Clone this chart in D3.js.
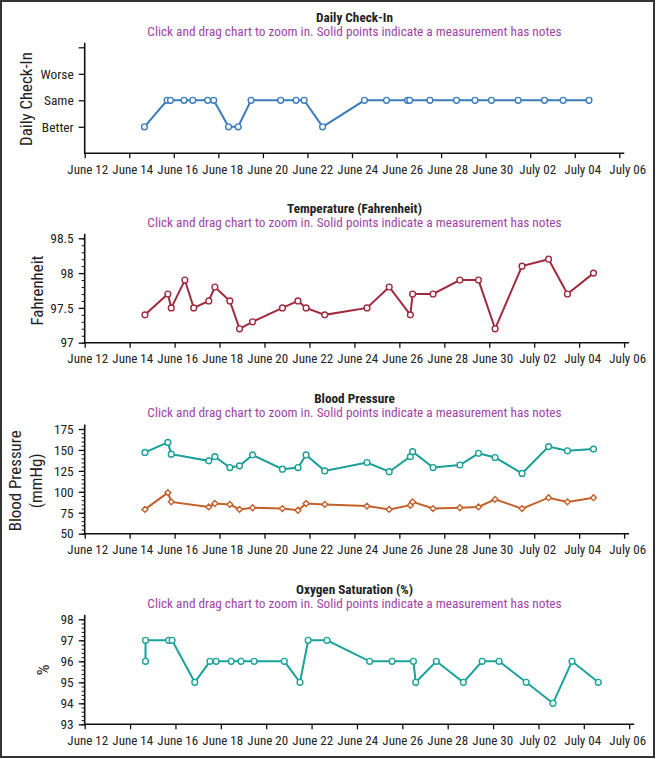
<!DOCTYPE html>
<html><head><meta charset="utf-8">
<script src="https://cdn.jsdelivr.net/npm/d3@7"></script>
<style>
body{margin:0;background:#fff;}
svg{display:block;}
text{font-family:"Roboto Condensed","Liberation Sans Narrow","Arial Narrow",Roboto,"Liberation Sans",Arial,sans-serif;fill:#222;}
</style></head>
<body>
<svg id="c" width="656" height="759"></svg>
<script>
// ---------------- data ----------------
const dates = ["2020-06-14T16:20","2020-06-15T16:50","2020-06-15T20:25","2020-06-16T11:00","2020-06-16T20:25",
  "2020-06-17T12:30","2020-06-17T19:00","2020-06-18T11:00","2020-06-18T21:20","2020-06-19T11:15",
  "2020-06-20T19:10","2020-06-21T11:45","2020-06-21T20:25","2020-06-22T16:20","2020-06-24T13:25",
  "2020-06-25T13:10","2020-06-26T11:45","2020-06-26T14:10","2020-06-27T12:00","2020-06-28T16:35",
  "2020-06-29T12:30","2020-06-30T06:15","2020-07-01T11:00","2020-07-02T15:20","2020-07-03T11:30","2020-07-04T15:20"];
const checkInLevels = ["", "Better", "Same", "Worse", ""];
const checkIn = [1,2,2,2,2,2,2,1,1,2,2,2,2,1,2,2,2,2,2,2,2,2,2,2,2,2];
const temperature = [97.4,97.7,97.5,97.9,97.5,97.6,97.8,97.6,97.2,97.3,97.5,97.6,97.5,97.4,97.5,97.8,97.4,97.7,97.7,97.9,97.9,97.2,98.1,98.2,97.7,98.0];
const bpDates = dates.filter((d,i)=> i!==3 && i!==4);
const systolic = [147,159,145,137,142,129,131,144,127,129,144,125,135,124,142,148,129,132,146,141,122,154,149,151];
const diastolic = [79,99,88,82,86,85,79,81,80,78,86,85,83,79,84,88,80,81,82,91,80,93,88,93];
const o2Dates = [dates[0]].concat(dates.filter((d,i)=> i!==3));
const oxygen = [96,97,97,97,95,96,96,96,96,96,96,95,97,97,96,96,96,95,96,95,96,96,95,94,96,95];
const xTickDates = ["2020-06-12","2020-06-14","2020-06-16","2020-06-18","2020-06-20","2020-06-22","2020-06-24",
  "2020-06-26","2020-06-28","2020-06-30","2020-07-02","2020-07-04","2020-07-06"];
const tempTicks = [97, 97.5, 98, 98.5];
const bpTicks = [50, 75, 100, 125, 150, 175];
const o2Ticks = [93, 94, 95, 96, 97, 98];
const subtitle = "Click and drag chart to zoom in. Solid points indicate a measurement has notes";

// ---------------- helpers ----------------
const parse = d3.isoParse;
const svg = d3.select("#c");
const X0 = 84.7;
const xStart = new Date(2020,5,12), x06 = new Date(2020,6,6);
// shared placement of the date labels (same in every panel)
const xLabel = d3.scaleTime().domain([xStart, x06]).range([87.2, 627.2]);

function fitSize(sample, weight, target){
  const t = svg.append("text").style("font-size","20px").style("font-weight",weight).text(sample);
  const w = t.node().getComputedTextLength();
  t.remove();
  return 20*target/w;
}
const FS_SUB = fitSize(subtitle, "normal", 414.6);
const FS_TITLE = fitSize("Daily Check-In", "bold", 77);
const FS_XT = fitSize("June 12", "normal", 40.7);
const FS_YT = fitSize("Worse", "normal", 33.2);
const FS_LAB = fitSize("Blood Pressure", "normal", 101);

svg.append("rect").attr("x",1).attr("y",1).attr("width",653).attr("height",756)
  .attr("fill","none").attr("stroke","#333").attr("stroke-width",2);

function panel(cfg){
  const g = svg.append("g");
  const pxPerDay = (cfg.x06 - X0)/24;
  const endDate = new Date(+x06 + (cfg.xEnd - cfg.x06)/pxPerDay*864e5);
  const x = d3.scaleTime().domain([xStart, endDate]).range([X0, cfg.xEnd]);
  const y = d3.scaleLinear().domain(cfg.yDomain).range([cfg.yBottom, cfg.yTop]);
  const baseY = cfg.yBottom;

  // title
  g.append("text").attr("x",354.5).attr("y",cfg.titleY).attr("text-anchor","middle")
    .style("font-weight","bold").style("font-size",FS_TITLE+"px").text(cfg.title);
  g.append("text").attr("x",354.5).attr("y",cfg.titleY+14).attr("text-anchor","middle")
    .style("font-size",FS_SUB+"px").style("fill","#a044a6").text(subtitle);

  // x axis
  const xa = g.append("g").attr("transform",`translate(0,${baseY})`)
    .call(d3.axisBottom(x).tickValues(xTickDates.map(d=>parse(d))).tickFormat(d3.timeFormat("%B %d"))
      .tickSize(5).tickSizeOuter(0).tickPadding(6));
  xa.select(".domain").remove();
  xa.selectAll("line").attr("stroke","#111").attr("stroke-width",1.3);
  xa.selectAll("text").style("font-size",FS_XT+"px").attr("fill","#222")
    .attr("dx",d=> xLabel(d) - x(d));
  g.append("line").attr("x1",X0).attr("x2",cfg.xEnd).attr("y1",baseY).attr("y2",baseY)
    .attr("stroke","#111").attr("stroke-width",1.6);

  // y axis
  if (cfg.minor) {
    const ym = g.append("g").attr("transform",`translate(${X0},0)`)
      .call(d3.axisLeft(y).tickValues(cfg.minor).tickSize(3).tickFormat(""));
    ym.select(".domain").remove();
    ym.selectAll("line").attr("stroke","#111").attr("stroke-width",1);
  }
  const ya = g.append("g").attr("transform",`translate(${X0},0)`)
    .call(d3.axisLeft(y).tickValues(cfg.yTicks).tickFormat(cfg.yFormat).tickSize(6).tickPadding(5));
  ya.select(".domain").remove();
  ya.selectAll("line").attr("stroke","#111").attr("stroke-width",1.3);
  ya.selectAll("text").style("font-size",FS_YT+"px").attr("fill","#222");
  g.append("line").attr("x1",X0).attr("x2",X0).attr("y1",baseY+0.8).attr("y2",cfg.yTop-4.5)
    .attr("stroke","#111").attr("stroke-width",1.6);

  // y label
  const lab = g.append("text").attr("transform",`translate(${cfg.labX},${cfg.labY}) rotate(-90)`)
    .attr("text-anchor","middle").style("font-size",FS_LAB+"px");
  cfg.label.forEach((t,i)=> lab.append("tspan").attr("x",0).attr("dy", i===0 ? (cfg.label.length>1? -10.5 : 6) : 21).text(t));

  // series
  cfg.series.forEach(s=>{
    const pts = s.dates.map((d,i)=>[x(parse(d)), y(s.values[i])]);
    g.append("path").attr("d", d3.line()(pts)).attr("fill","none")
      .attr("stroke",s.color).attr("stroke-width",2);
    if (s.shape==="diamond") {
      g.selectAll(null).data(pts).join("path")
        .attr("d", d3.symbol(d3.symbolDiamond2 || d3.symbolDiamond, 22)())
        .attr("transform",d=>`translate(${d[0]},${d[1]})`)
        .attr("fill","#fff").attr("stroke",s.color).attr("stroke-width",1.4);
    } else {
      g.selectAll(null).data(pts).join("circle").attr("cx",d=>d[0]).attr("cy",d=>d[1]).attr("r",2.9)
        .attr("fill","#fff").attr("stroke",s.color).attr("stroke-width",1.4);
    }
  });
}

panel({title:"Daily Check-In", titleY:22, x06:619.3, xEnd:624.3,
  yDomain:[0,4], yBottom:153.3, yTop:47.3, yTicks:[1,2,3,4], yFormat:d=>checkInLevels[d],
  label:["Daily Check-In"], labX:26, labY:99,
  series:[{dates:dates, values:checkIn, color:"#3b7cbd"}]});

panel({title:"Temperature (Fahrenheit)", titleY:213, x06:624.1, xEnd:629.1,
  yDomain:[97,98.5], yBottom:342.7, yTop:238.3, yTicks:tempTicks, yFormat:d3.format(""),
  minor:d3.range(970,986).map(v=>v/10),
  label:["Fahrenheit"], labX:37.3, labY:290.5,
  series:[{dates:dates, values:temperature, color:"#a12a3e"}]});

panel({title:"Blood Pressure", titleY:403, x06:624.1, xEnd:629.1,
  yDomain:[50,175], yBottom:533.7, yTop:429, yTicks:bpTicks, yFormat:d3.format(""),
  minor:d3.range(50,176,5),
  label:["Blood Pressure","(mmHg)"], labX:31, labY:480.8,
  series:[{dates:bpDates, values:systolic, color:"#1a9e98"},
          {dates:bpDates, values:diastolic, color:"#c2602b", shape:"diamond"}]});

panel({title:"Oxygen Saturation (%)", titleY:594, x06:629.2, xEnd:634.2,
  yDomain:[93,98], yBottom:724.3, yTop:619.3, yTicks:o2Ticks, yFormat:d3.format(""),
  minor:d3.range(930,981,2).map(v=>v/10),
  label:["%"], labX:43.3, labY:670,
  series:[{dates:o2Dates, values:oxygen, color:"#1aa39b"}]});
</script>
</body></html>
